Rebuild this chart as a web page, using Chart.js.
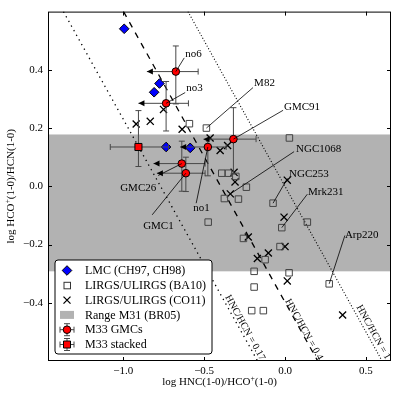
<!DOCTYPE html>
<html>
<head>
<meta charset="utf-8">
<script src="https://cdn.jsdelivr.net/npm/chart.js@4.4.1/dist/chart.umd.min.js"></script>
<style>
  html, body { margin: 0; padding: 0; background: #fff; }
  canvas { display: block; }
</style>
</head>
<body>
<canvas id="chart" width="399" height="396"></canvas>
<script>
// axis limits and ticks
const xRange = [-1.465, 0.655];
const yRange = [-0.6, 0.6];
const xTicks = [-1.0, -0.5, 0.0, 0.5];
const yTicks = [-0.4, -0.2, 0.0, 0.2, 0.4];

// LMC (CH97, CH98)
const lmcX = [-0.994, -0.776, -0.809, -0.735, -0.586];
const lmcY = [0.541, 0.353, 0.323, 0.135, 0.132];

// LIRGS/ULIRGS (BA10)
const ba10X = [-0.591, -0.486, 0.027, -0.391, -0.350, -0.304, -0.239, -0.375, -0.288, -0.074, -0.475,
               -0.020, 0.138, -0.257, -0.031, -0.123, -0.191, 0.025, 0.273, -0.191, -0.206, -0.134];
const ba10Y = [0.215, 0.200, 0.166, 0.045, 0.045, 0.034, -0.003, -0.042, -0.044, -0.058, -0.123,
               -0.142, -0.123, -0.179, -0.207, -0.252, -0.292, -0.297, -0.335, -0.346, -0.427, -0.427];

// LIRGS/ULIRGS (CO11)
const co11X = [-0.920, -0.833, -0.751, -0.636, -0.463, -0.401, -0.355, -0.315, -0.309, -0.338,
               0.014, -0.006, -0.227, 0.000, -0.103, -0.171, 0.014, 0.356];
const co11Y = [0.214, 0.223, 0.264, 0.196, 0.166, 0.123, 0.140, 0.048, 0.015, -0.026,
               0.021, -0.106, -0.174, -0.207, -0.229, -0.248, -0.325, -0.442];

// M33 GMCs: no6, no3, GMC26, GMC1, no1, GMC91 (x values are upper limits)
const gmcX = [-0.675, -0.735, -0.638, -0.613, -0.477, -0.319];
const gmcY = [0.394, 0.285, 0.078, 0.045, 0.135, 0.162];
const gmcXLimit = [-0.854, -0.906, -0.813, -0.792, -0.648, -0.504];
const gmcXHigh = [-0.537, -0.597, -0.494, -0.494, -0.364, -0.179];
const gmcYLow = [0.283, 0.190, -0.017, -0.018, 0.036, 0.042];
const gmcYHigh = [0.482, 0.360, 0.155, 0.100, 0.160, 0.270];

// M33 stacked
const stackedX = [-0.906];
const stackedY = [0.135];
const stackedXLow = [-1.080];
const stackedXHigh = [-0.720];
const stackedYLow = [0.068];
const stackedYHigh = [0.260];

// Range M31 (BR05)
const m31Range = [-0.292, 0.178];

// constant HNC/HCN lines and their labels
const hncHcnRatios = [0.17, 0.4, 1];
const ratioLabels = ['HNC/HCN = 0.17', 'HNC/HCN = 0.4', 'HNC/HCN = 1'];
const ratioLabelX = [-0.247, 0.117, 0.545];
const ratioLabelY = [-0.486, -0.492, -0.501];

// annotated objects: name, point, text position, end of the leader line
const noteNames = ['no6', 'no3', 'M82', 'GMC91', 'NGC1068', 'NGC253', 'Mrk231', 'Arp220', 'GMC26', 'GMC1', 'no1'];
const notePointX = [-0.675, -0.735, -0.486, -0.319, -0.338, -0.074, -0.020, 0.273, -0.638, -0.613, -0.477];
const notePointY = [0.394, 0.285, 0.200, 0.162, -0.026, -0.058, -0.142, -0.335, 0.078, 0.045, 0.135];
const noteTextX = [-0.617, -0.611, -0.191, -0.006, 0.068, 0.025, 0.142, 0.370, -1.019, -0.877, -0.568];
const noteTextY = [0.454, 0.336, 0.353, 0.271, 0.129, 0.041, -0.020, -0.166, -0.007, -0.136, -0.075];
const noteLeadX = [-0.623, -0.617, -0.198, -0.012, 0.056, 0.015, 0.138, 0.370, -0.784, -0.821, -0.549];
const noteLeadY = [0.441, 0.322, 0.339, 0.261, 0.119, 0.027, -0.027, -0.169, 0.037, -0.098, -0.058];

const legendLabels = ['LMC (CH97, CH98)', 'LIRGS/ULIRGS (BA10)', 'LIRGS/ULIRGS (CO11)',
                      'Range M31 (BR05)', 'M33 GMCs', 'M33 stacked'];

const SERIF = "'Liberation Serif', 'Times New Roman', serif";
const pts = (xs, ys) => xs.map((x, i) => ({ x: x, y: ys[i] }));
const fmt = v => v.toFixed(1).replace('-', '\u2212');

function ratioLine(r) {
    const c = Math.log10(r);
    return [{ x: c - yRange[1], y: yRange[1] }, { x: c - yRange[0], y: yRange[0] }];
}

// text with a superscript part
function drawRich(ctx, parts, x, y, size) {
    const small = size * 0.7;
    let total = 0;
    parts.forEach(p => {
        ctx.font = (p[1] ? small : size) + 'px ' + SERIF;
        total += ctx.measureText(p[0]).width;
    });
    let cx = x - total / 2;
    ctx.textAlign = 'left';
    ctx.textBaseline = 'alphabetic';
    parts.forEach(p => {
        ctx.font = (p[1] ? small : size) + 'px ' + SERIF;
        ctx.fillText(p[0], cx, p[1] ? y - size * 0.38 : y);
        cx += ctx.measureText(p[0]).width;
    });
}

function diamond(ctx, x, y, r) {
    ctx.beginPath();
    ctx.moveTo(x, y - r); ctx.lineTo(x + r, y); ctx.lineTo(x, y + r); ctx.lineTo(x - r, y);
    ctx.closePath();
    ctx.fillStyle = '#0000ff'; ctx.fill();
    ctx.strokeStyle = '#000'; ctx.lineWidth = 1; ctx.stroke();
}

function errorBars(ctx, px, py, xl, xh, yl, yh, arrow) {
    const cap = 3;
    ctx.strokeStyle = '#484848';
    ctx.lineWidth = 1;
    ctx.beginPath();
    ctx.moveTo(xl, py); ctx.lineTo(xh, py);
    ctx.moveTo(xh, py - cap); ctx.lineTo(xh, py + cap);
    if (!arrow) { ctx.moveTo(xl, py - cap); ctx.lineTo(xl, py + cap); }
    ctx.moveTo(px, yl); ctx.lineTo(px, yh);
    ctx.moveTo(px - cap, yl); ctx.lineTo(px + cap, yl);
    ctx.moveTo(px - cap, yh); ctx.lineTo(px + cap, yh);
    ctx.stroke();
    if (arrow) {
        ctx.fillStyle = '#000';
        ctx.beginPath();
        ctx.moveTo(xl, py); ctx.lineTo(xl + 6, py - 3); ctx.lineTo(xl + 6, py + 3);
        ctx.closePath();
        ctx.fill();
    }
}

const figurePlugin = {
    id: 'figure',
    beforeDatasetsDraw(chart) {
        const { ctx, chartArea: a, scales: { y } } = chart;
        const top = y.getPixelForValue(m31Range[1]);
        const bot = y.getPixelForValue(m31Range[0]);
        ctx.save();
        ctx.fillStyle = '#b2b2b2';
        ctx.fillRect(a.left, top, a.right - a.left, bot - top);
        ctx.restore();
    },
    beforeDatasetDraw(chart, args) {
        if (chart.data.datasets[args.index].label !== 'M33 GMCs') return;
        const { ctx, chartArea: a, scales: { x, y } } = chart;
        ctx.save();
        ctx.beginPath();
        ctx.rect(a.left, a.top, a.right - a.left, a.bottom - a.top);
        ctx.clip();
        gmcX.forEach((v, i) => {
            errorBars(ctx, x.getPixelForValue(v), y.getPixelForValue(gmcY[i]),
                x.getPixelForValue(gmcXLimit[i]), x.getPixelForValue(gmcXHigh[i]),
                y.getPixelForValue(gmcYLow[i]), y.getPixelForValue(gmcYHigh[i]), true);
        });
        stackedX.forEach((v, i) => {
            errorBars(ctx, x.getPixelForValue(v), y.getPixelForValue(stackedY[i]),
                x.getPixelForValue(stackedXLow[i]), x.getPixelForValue(stackedXHigh[i]),
                y.getPixelForValue(stackedYLow[i]), y.getPixelForValue(stackedYHigh[i]), false);
        });
        ctx.restore();
    },
    afterDatasetsDraw(chart) {
        const { ctx, chartArea: a, scales: { x, y } } = chart;
        ctx.save();

        // leader lines and names
        ctx.strokeStyle = '#000';
        ctx.lineWidth = 0.8;
        ctx.fillStyle = '#000';
        ctx.font = '11px ' + SERIF;
        ctx.textAlign = 'left';
        ctx.textBaseline = 'middle';
        noteNames.forEach((name, i) => {
            ctx.beginPath();
            ctx.moveTo(x.getPixelForValue(notePointX[i]), y.getPixelForValue(notePointY[i]));
            ctx.lineTo(x.getPixelForValue(noteLeadX[i]), y.getPixelForValue(noteLeadY[i]));
            ctx.stroke();
            ctx.fillText(name, x.getPixelForValue(noteTextX[i]), y.getPixelForValue(noteTextY[i]));
        });

        // rotated labels along the ratio lines
        const ang = Math.atan2(y.getPixelForValue(-1) - y.getPixelForValue(0),
                               x.getPixelForValue(1) - x.getPixelForValue(0));
        ctx.font = '10px ' + SERIF;
        ctx.textAlign = 'center';
        ratioLabels.forEach((t, i) => {
            ctx.save();
            ctx.translate(x.getPixelForValue(ratioLabelX[i]), y.getPixelForValue(ratioLabelY[i]));
            ctx.rotate(ang);
            ctx.fillText(t, 0, 0);
            ctx.restore();
        });

        // frame with inward ticks
        ctx.strokeStyle = '#000';
        ctx.lineWidth = 1;
        ctx.strokeRect(a.left + 0.5, a.top + 0.5, a.right - a.left - 1, a.bottom - a.top - 1);
        ctx.beginPath();
        xTicks.forEach(v => {
            const px = Math.round(x.getPixelForValue(v)) + 0.5;
            ctx.moveTo(px, a.bottom); ctx.lineTo(px, a.bottom - 4);
            ctx.moveTo(px, a.top); ctx.lineTo(px, a.top + 4);
        });
        yTicks.forEach(v => {
            const py = Math.round(y.getPixelForValue(v)) + 0.5;
            ctx.moveTo(a.left, py); ctx.lineTo(a.left + 4, py);
            ctx.moveTo(a.right, py); ctx.lineTo(a.right - 4, py);
        });
        ctx.stroke();

        // legend
        const lx = 55, ly = 260, lw = 157, lh = 94, rr = 3;
        ctx.beginPath();
        ctx.moveTo(lx + rr, ly);
        ctx.arcTo(lx + lw, ly, lx + lw, ly + lh, rr);
        ctx.arcTo(lx + lw, ly + lh, lx, ly + lh, rr);
        ctx.arcTo(lx, ly + lh, lx, ly, rr);
        ctx.arcTo(lx, ly, lx + lw, ly, rr);
        ctx.closePath();
        ctx.fillStyle = '#fff';
        ctx.fill();
        ctx.strokeStyle = '#000';
        ctx.lineWidth = 1;
        ctx.stroke();

        const mx = 67;
        legendLabels.forEach((t, i) => {
            const ry = 270.5 + i * 14.8;
            if (i === 0) diamond(ctx, mx, ry, 4.8);
            if (i === 1) {
                ctx.strokeStyle = '#333'; ctx.lineWidth = 1;
                ctx.strokeRect(mx - 3, ry - 3, 6.5, 6.5);
            }
            if (i === 2) {
                ctx.strokeStyle = '#000'; ctx.lineWidth = 1.3;
                ctx.beginPath();
                ctx.moveTo(mx - 3.5, ry - 3.5); ctx.lineTo(mx + 3.5, ry + 3.5);
                ctx.moveTo(mx - 3.5, ry + 3.5); ctx.lineTo(mx + 3.5, ry - 3.5);
                ctx.stroke();
            }
            if (i === 3) {
                ctx.fillStyle = '#b2b2b2';
                ctx.fillRect(mx - 7, ry - 4, 14, 8);
            }
            if (i === 4 || i === 5) {
                errorBars(ctx, mx, ry, mx - 7, mx + 7, ry + 6, ry - 6, false);
                ctx.fillStyle = '#ff0000';
                ctx.strokeStyle = '#000';
                ctx.lineWidth = 1;
                ctx.beginPath();
                if (i === 4) ctx.arc(mx, ry, 3.8, 0, Math.PI * 2);
                else ctx.rect(mx - 3.5, ry - 3.5, 7, 7);
                ctx.fill();
                ctx.stroke();
            }
            ctx.fillStyle = '#000';
            ctx.font = '12px ' + SERIF;
            ctx.textAlign = 'left';
            ctx.textBaseline = 'middle';
            ctx.fillText(t, 85, ry + 0.5);
        });
        ctx.restore();
    },
    afterDraw(chart) {
        const { ctx, chartArea: a } = chart;
        ctx.save();
        ctx.fillStyle = '#000';
        drawRich(ctx, [['log HNC(1-0)/HCO', false], ['+', true], ['(1-0)', false]],
                 (a.left + a.right) / 2, 385, 11);
        ctx.translate(14, (a.top + a.bottom) / 2);
        ctx.rotate(-Math.PI / 2);
        drawRich(ctx, [['log HCO', false], ['+', true], ['(1-0)/HCN(1-0)', false]], 0, 0, 11);
        ctx.restore();
    }
};

const tickFont = { family: SERIF, size: 11 };

new Chart(document.getElementById('chart'), {
    type: 'scatter',
    data: {
        datasets: [
            { label: 'M33 stacked', data: pts(stackedX, stackedY), pointStyle: 'rect', pointRadius: 5,
              backgroundColor: '#ff0000', borderColor: '#000', borderWidth: 1, order: 0 },
            { label: 'M33 GMCs', data: pts(gmcX, gmcY), pointStyle: 'circle', pointRadius: 3.8,
              backgroundColor: '#ff0000', borderColor: '#000', borderWidth: 1, order: 1 },
            { label: 'LMC (CH97, CH98)', data: pts(lmcX, lmcY), pointStyle: 'rectRot', pointRadius: 4.8,
              backgroundColor: '#0000ff', borderColor: '#000', borderWidth: 1, order: 2 },
            { label: 'LIRGS/ULIRGS (BA10)', data: pts(ba10X, ba10Y), pointStyle: 'rect', pointRadius: 4.6,
              backgroundColor: 'rgba(0,0,0,0)', borderColor: '#444', borderWidth: 1, order: 3 },
            { label: 'LIRGS/ULIRGS (CO11)', data: pts(co11X, co11Y), pointStyle: 'crossRot', pointRadius: 5,
              borderColor: '#000', borderWidth: 1.3, order: 4 },
            { label: ratioLabels[0], data: ratioLine(hncHcnRatios[0]), showLine: true, pointRadius: 0,
              borderColor: '#000', borderWidth: 1.3, borderDash: [1.3, 4], order: 5 },
            { label: ratioLabels[1], data: ratioLine(hncHcnRatios[1]), showLine: true, pointRadius: 0,
              borderColor: '#000', borderWidth: 1.3, borderDash: [6, 6], order: 6 },
            { label: ratioLabels[2], data: ratioLine(hncHcnRatios[2]), showLine: true, pointRadius: 0,
              borderColor: '#000', borderWidth: 1.1, borderDash: [1, 2], order: 7 }
        ]
    },
    options: {
        responsive: false,
        animation: false,
        devicePixelRatio: 1,
        events: [],
        layout: { padding: { top: 7, right: 8, left: 0, bottom: 0 } },
        plugins: { legend: { display: false }, tooltip: { enabled: false } },
        scales: {
            x: {
                type: 'linear', min: xRange[0], max: xRange[1],
                grid: { display: false, drawTicks: false },
                border: { display: false },
                afterBuildTicks: s => { s.ticks = xTicks.map(v => ({ value: v })); },
                afterFit: s => { s.height = 35; },
                ticks: { font: tickFont, color: '#000', padding: 4, maxRotation: 0, autoSkip: false,
                         callback: v => fmt(v) }
            },
            y: {
                type: 'linear', min: yRange[0], max: yRange[1],
                grid: { display: false, drawTicks: false },
                border: { display: false },
                afterBuildTicks: s => { s.ticks = yTicks.map(v => ({ value: v })); },
                afterFit: s => { s.width = 48; },
                ticks: { font: tickFont, color: '#000', padding: 5, autoSkip: false,
                         callback: v => fmt(v) }
            }
        }
    },
    plugins: [figurePlugin]
});
</script>
</body>
</html>
